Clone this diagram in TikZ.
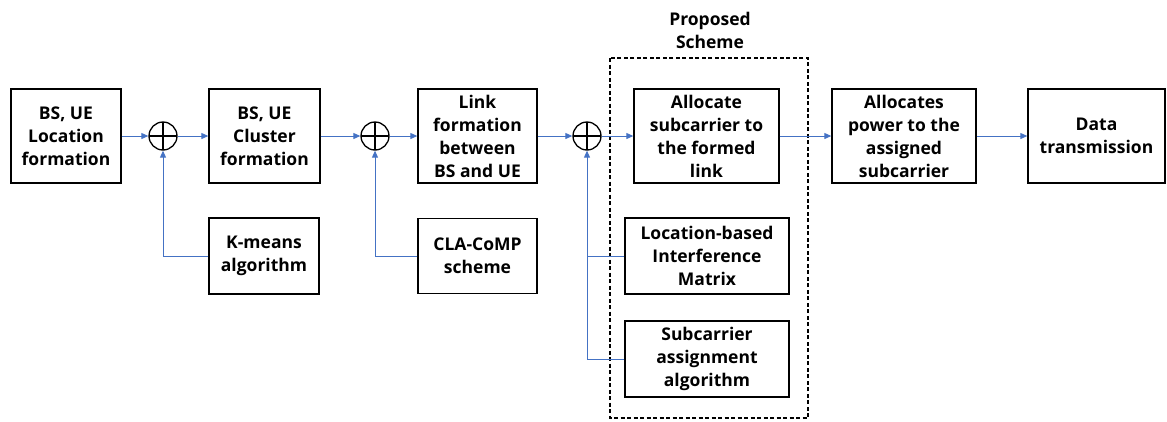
\documentclass[tikz,border=0pt]{standalone}
\usepackage{fontspec}
\setmainfont{Open Sans}
\usetikzlibrary{arrows.meta}
\definecolor{linkblue}{HTML}{4472C4}
\begin{document}
\begin{tikzpicture}[x=1pt,y=-1pt,
  blockbox/.style={draw=black,line width=1.3pt,align=center,inner sep=0pt,
    font=\fontsize{17.5}{23}\selectfont\bfseries},
  sumnode/.style={draw=black,line width=1.3pt,circle,minimum size=28pt,inner sep=0pt,
    path picture={\draw[line width=1.1pt] (path picture bounding box.north) -- (path picture bounding box.south)
      (path picture bounding box.west) -- (path picture bounding box.east);}},
  flow/.style={linkblue,line width=0.9pt,-{Triangle[length=7pt,width=6pt]}},
  feed/.style={linkblue,line width=0.9pt}]
\useasboundingbox (0,0) rectangle (1167,421);

% group frame of the proposed scheme
\draw[line width=1.2pt,dash pattern=on 4pt off 2.5pt] (610,58) rectangle (808,418);
\node[font=\fontsize{17.5}{23}\selectfont\bfseries,align=center] (title) at (710,30) {Proposed\\Scheme};

% main chain
\node[blockbox,minimum width=110pt,minimum height=94pt] (loc) at (66,136) {BS, UE\\Location\\formation};
\node[sumnode] (s1) at (163,136) {};
\node[blockbox,minimum width=111pt,minimum height=94pt] (clu) at (264.5,136) {BS, UE\\Cluster\\formation};
\node[sumnode] (s2) at (375,136) {};
\node[blockbox,minimum width=119pt,minimum height=94pt] (link) at (477.5,136) {Link\\formation\\between\\BS and UE};
\node[sumnode] (s3) at (587,136) {};
\node[blockbox,minimum width=145pt,minimum height=94pt] (sub) at (706.5,136) {Allocate\\subcarrier to\\the formed\\link};
\node[blockbox,minimum width=144pt,minimum height=94pt] (pow) at (904,136) {Allocates\\power to the\\assigned\\subcarrier};
\node[blockbox,minimum width=137pt,minimum height=94pt] (data) at (1096.5,136) {Data\\transmission};

% side inputs
\node[blockbox,minimum width=110pt,minimum height=76pt] (km) at (264,256) {K-means\\algorithm};
\node[blockbox,minimum width=119pt,minimum height=75pt] (cla) at (477.5,256) {CLA-CoMP\\scheme};
\node[blockbox,minimum width=164pt,minimum height=76pt] (lim) at (707,256) {Location-based\\Interference\\Matrix};
\node[blockbox,minimum width=164pt,minimum height=76pt] (saa) at (707,359) {Subcarrier\\assignment\\algorithm};

% forward connectors
\draw[flow] (loc) -- (s1);
\draw[flow] (s1) -- (clu);
\draw[flow] (clu) -- (s2);
\draw[flow] (s2) -- (link);
\draw[flow] (link) -- (s3);
\draw[flow] (s3) -- (sub);
\draw[flow] (sub) -- (pow);
\draw[flow] (pow) -- (data);

% feeds into the summing points
\draw[flow] (km.west) -| (s1.south);
\draw[flow] (cla.west) -| (s2.south);
\draw[flow] (saa.west) -| (s3.south);
\draw[feed] (lim.west) -- (lim.west -| s3.south);
\end{tikzpicture}
\end{document}
